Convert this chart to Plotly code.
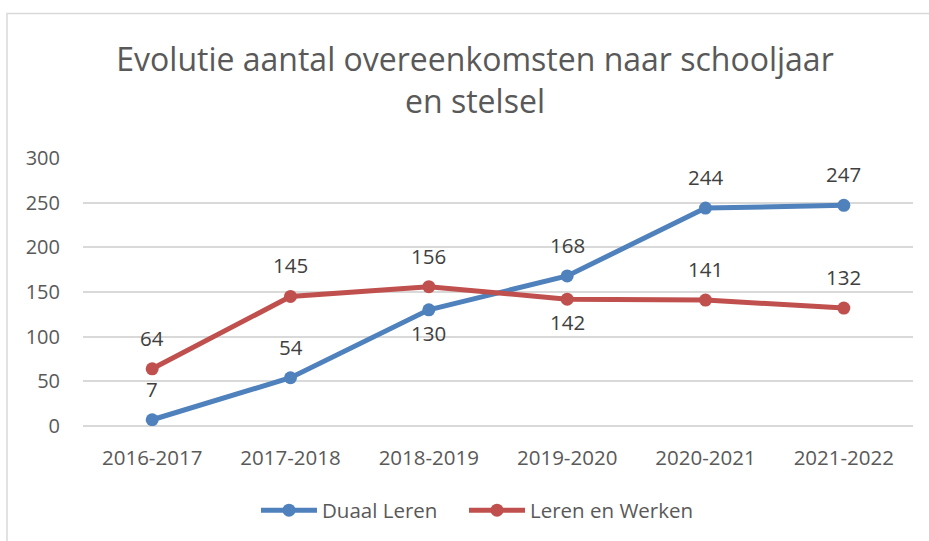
import plotly.graph_objects as go

categories = ["2016-2017", "2017-2018", "2018-2019", "2019-2020", "2020-2021", "2021-2022"]
duaal_leren = [7, 54, 130, 168, 244, 247]
leren_werken = [64, 145, 156, 142, 141, 132]
duaal_label_above = [True, True, False, True, True, True]
werken_label_above = [True, True, True, False, True, True]
y_ticks = [0, 50, 100, 150, 200, 250, 300]

FONT = "Open Sans"
TXT = "#595959"
LBL = "#404040"
BLUE = "#4F81BD"
RED = "#C0504D"

fig = go.Figure()
fig.add_trace(go.Scatter(
    x=categories, y=duaal_leren, name="Duaal Leren",
    mode="lines+markers", legend="legend",
    line=dict(color=BLUE, width=5),
    marker=dict(color=BLUE, size=13),
))
fig.add_trace(go.Scatter(
    x=categories, y=leren_werken, name="Leren en Werken",
    mode="lines+markers", legend="legend2",
    line=dict(color=RED, width=5),
    marker=dict(color=RED, size=13),
))

annotations = []
for vals, above in ((duaal_leren, duaal_label_above), (leren_werken, werken_label_above)):
    for c, v, a in zip(categories, vals, above):
        annotations.append(dict(
            x=c, y=v, xref="x", yref="y", text=str(v), showarrow=False,
            xanchor="center", yanchor="middle", yshift=31 if a else -23,
            font=dict(family=FONT, size=20.5, color=LBL),
        ))

legend_common = dict(
    orientation="h", xanchor="left", y=-0.31, yanchor="middle",
    font=dict(family=FONT, size=20.5, color=TXT), itemwidth=56, tracegroupgap=0,
    bgcolor="rgba(0,0,0,0)",
)

fig.update_layout(
    width=929, height=541,
    margin=dict(l=83, r=16, t=158, b=114),
    paper_bgcolor="white", plot_bgcolor="white",
    font=dict(family=FONT, color=TXT, size=20),
    title=dict(
        text="Evolutie aantal overeenkomsten naar schooljaar<br>en stelsel",
        x=(475 - 83) / 830, xref="paper", xanchor="center",
        y=1 - 71 / 541, yref="container", yanchor="middle",
        font=dict(family=FONT, size=32, color=TXT),
    ),
    xaxis=dict(
        type="category", range=[-0.5, 5.5], showgrid=False, showline=False,
        ticks="", tickfont=dict(size=20.5, color=TXT), ticklabelstandoff=17,
    ),
    yaxis=dict(
        range=[0, 300], tickvals=y_ticks, showgrid=True, gridcolor="#D9D9D9",
        gridwidth=1.5, zeroline=True, zerolinecolor="#D9D9D9", zerolinewidth=1.5,
        showline=False, ticks="", ticklabelstandoff=22,
        tickfont=dict(size=20, color=TXT),
    ),
    annotations=annotations,
    showlegend=True,
    legend=dict(x=(256 - 83) / 830, **legend_common),
    legend2=dict(x=(464 - 83) / 830, **legend_common),
    shapes=[dict(
        type="rect", xref="paper", yref="paper",
        x0=(7 - 83) / 830, x1=1.2, y0=-1.0, y1=1 + (158 - 13) / 269,
        line=dict(color="#D9D9D9", width=1.5), fillcolor="rgba(0,0,0,0)", layer="below",
    )],
)

fig.write_html("out.html", config={"displayModeBar": False},
               post_script="document.body.style.margin='0px';")
